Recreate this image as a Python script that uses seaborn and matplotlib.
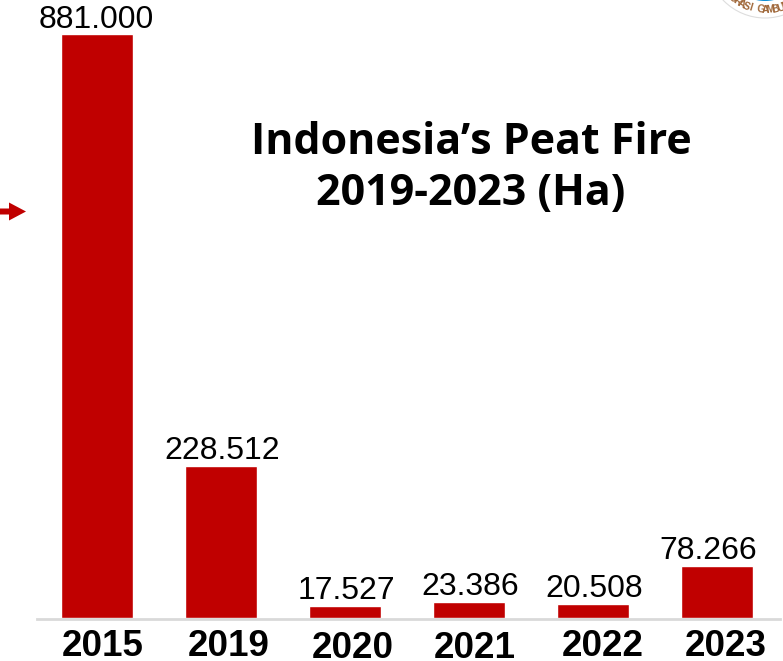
import numpy as np
import pandas as pd
import matplotlib
matplotlib.use("Agg")
import matplotlib.pyplot as plt
from matplotlib.patches import Circle, FancyArrow
from matplotlib.transforms import ScaledTranslation
import seaborn as sns

years = ["2015", "2019", "2020", "2021", "2022", "2023"]
burned_ha = [881000, 228512, 17527, 23386, 20508, 78266]
title_lines = "Indonesia\u2019s Peat Fire\n2019-2023 (Ha)"
logo_text = "ORASI GAMBUT"

W, H = 783, 661
RED = "#C00000"

sns.set_theme(style="white")
plt.rcParams["font.family"] = ["Liberation Sans", "DejaVu Sans"]

fig = plt.figure(figsize=(W / 100, H / 100), dpi=100, facecolor="white")
ax = fig.add_axes([37 / W, 43.5 / H, 743 / W, 617.5 / H])

df = pd.DataFrame({"year": years, "ha": burned_ha})
sns.barplot(data=df, x="year", y="ha", color=RED, saturation=1, width=0.58, ax=ax)
ax.set_xlim(-60 / 124, 683 / 124)
ax.set_ylim(0, burned_ha[0] * 617.5 / 583)
ax.set_xlabel("")
ax.set_ylabel("")
ax.set_yticks([])

sns.despine(ax=ax, left=True)
ax.spines["bottom"].set_color("#D9D9D9")
ax.spines["bottom"].set_linewidth(2.0)
ax.spines["bottom"].set_position(("outward", 1))

# Value labels use a dot as the thousands separator
labels = [f"{v:,}".replace(",", ".") for v in burned_ha]
ann = ax.bar_label(ax.containers[0], labels=labels, padding=0, fontsize=23, color="black", clip_on=False)
label_dx = [-1, 1.5, 1.5, 1, 1.5, -9]
label_dy = [-1, 0, 0, 0, 0, 0]
for t, dx, dy in zip(ann, label_dx, label_dy):
    t.xyann = (dx * 0.72, dy * 0.72)

# Year labels sit slightly off the bar centres
ax.tick_params(axis="x", length=0, pad=7.5)
tick_dx = [5.5, 8, 7.5, 5.5, 10, 8.5]
tick_dy = [0, 0, -2, -2, 0, 0]
for lab, dx, dy in zip(ax.get_xticklabels(), tick_dx, tick_dy):
    lab.set_fontsize(26.5)
    lab.set_fontweight("bold")
    lab.set_color("black")
    lab.set_transform(lab.get_transform() + ScaledTranslation(dx / 100, dy / 100, fig.dpi_scale_trans))

fig.text(471 / W, 1 - 168 / H, title_lines, ha="center", va="center", fontsize=31,
         fontweight="bold", family="Open Sans", color="black", linespacing=1.24)

# Overlay in pixel coordinates for the side arrow and the cropped logo
ov = fig.add_axes([0, 0, 1, 1], facecolor="none")
ov.set_xlim(0, W)
ov.set_ylim(H, 0)
ov.axis("off")
ov.add_patch(FancyArrow(0, 211.5, 26, 0, width=6, head_width=18, head_length=17,
                        length_includes_head=True, color=RED, lw=0))

cx, cy, r = 765, -40, 58
ov.add_patch(Circle((cx, cy), r, fc="white", ec="#DDDDDD", lw=0.8))
ov.add_patch(Circle((cx, cy), 41, fc="#0F8FD6", ec="none"))
for ch, a in zip(logo_text, np.linspace(130, 66, len(logo_text))):
    rad = np.deg2rad(a)
    ov.text(cx + 50 * np.cos(rad), cy + 50 * np.sin(rad), ch, fontsize=7.5, fontweight="bold",
            color="#A0683A", ha="center", va="center", rotation=90 - a, clip_on=True)

fig.savefig("out.png", dpi=100, facecolor="white")
